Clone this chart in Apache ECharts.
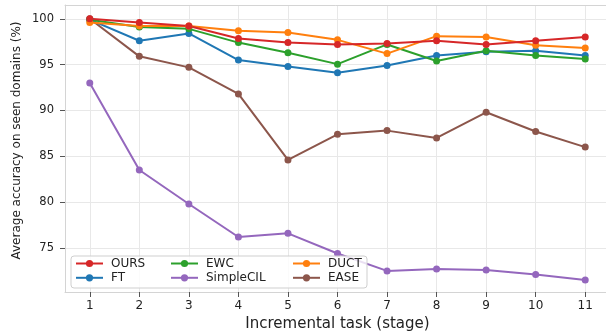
<!DOCTYPE html>
<html>
<head>
<meta charset="utf-8">
<script src="https://cdn.jsdelivr.net/npm/echarts@6/dist/echarts.min.js"></script>
<style>
html,body{margin:0;padding:0;background:#fff;}
#c{width:606px;height:331px;}
</style>
</head>
<body>
<div id="c"></div>
<script>
const stages = [1,2,3,4,5,6,7,8,9,10,11];
const yTicks = [75,80,85,90,95,100];
const seriesNames = ['OURS','FT','EWC','SimpleCIL','DUCT','EASE'];
const OURS      = [100.0, 99.6, 99.2, 97.85, 97.4, 97.2, 97.3, 97.6, 97.2, 97.6, 98.0];
const FT        = [99.9, 97.6, 98.4, 95.5, 94.8, 94.1, 94.9, 96.0, 96.4, 96.5, 96.0];
const EWC       = [99.9, 99.1, 98.9, 97.4, 96.3, 95.05, 97.2, 95.4, 96.5, 96.0, 95.6];
const SimpleCIL = [93.0, 83.5, 79.8, 76.2, 76.6, 74.4, 72.5, 72.7, 72.6, 72.1, 71.5];
const DUCT      = [99.6, 99.2, 99.2, 98.7, 98.5, 97.7, 96.2, 98.1, 98.0, 97.1, 96.8];
const EASE      = [100.0, 95.9, 94.7, 91.8, 84.6, 87.4, 87.8, 87.0, 89.8, 87.7, 86.0];
const values = {OURS, FT, EWC, SimpleCIL, DUCT, EASE};
const colors = {OURS:'#d62728', FT:'#1f77b4', EWC:'#2ca02c', SimpleCIL:'#9467bd', DUCT:'#ff7f0e', EASE:'#8c564b'};
const drawOrder = ['EASE','SimpleCIL','FT','EWC','DUCT','OURS'];

const FONT = 'DejaVu Sans';
const SPINE = '#d4d4d4';
const chart = echarts.init(document.getElementById('c'));

const series = drawOrder.map(n => ({
  name: n,
  type: 'line',
  data: stages.map((s,i) => [s, values[n][i]]),
  symbol: 'circle',
  symbolSize: 7,
  lineStyle: {width: 2, color: colors[n]},
  itemStyle: {color: colors[n]},
  animation: false
}));

function legendCol(names, left) {
  return {
    data: names, orient: 'vertical', left: left, top: 256.5, padding: 0,
    itemWidth: 27, itemHeight: 9, itemGap: 0.3, z: 20,
    textStyle: {fontFamily: FONT, fontSize: 12, color: '#222', lineHeight: 14, padding: [0,0,0,3]}
  };
}

chart.setOption({
  animation: false,
  backgroundColor: '#fff',
  grid: {left: 65, right: -4, top: 5, bottom: 39, outerBoundsMode: 'none', containLabel: false},
  xAxis: [{
    type: 'value', min: 0.5, max: 11.5,
    name: 'Incremental task (stage)', nameLocation: 'middle', nameGap: 21,
    nameTextStyle: {fontFamily: FONT, fontSize: 15, color: '#222'},
    axisLine: {show: true, lineStyle: {color: SPINE, width: 1}},
    axisTick: {show: true, length: 5, lineStyle: {color: '#555'}, customValues: stages},
    axisLabel: {fontFamily: FONT, fontSize: 12, color: '#222', margin: 8, customValues: stages},
    splitLine: {show: true, lineStyle: {color: '#e8e8e8', width: 1}}
  }, {
    type: 'value', position: 'top', min: 0.5, max: 11.5,
    axisLine: {show: true, onZero: false, lineStyle: {color: SPINE, width: 1}},
    axisTick: {show: false}, axisLabel: {show: false}, splitLine: {show: false}
  }],
  yAxis: {
    type: 'value', min: 70.2, max: 101.5,
    axisLine: {show: true, onZero: false, lineStyle: {color: SPINE, width: 1}},
    axisTick: {show: true, length: 5, lineStyle: {color: '#555'}, customValues: yTicks},
    axisLabel: {fontFamily: FONT, fontSize: 11.5, color: '#222', margin: 11, customValues: yTicks},
    splitLine: {show: true, lineStyle: {color: '#e8e8e8', width: 1}}
  },
  legend: [
    legendCol(['OURS','FT'], 75),
    legendCol(['EWC','SimpleCIL'], 170),
    legendCol(['DUCT','EASE'], 292)
  ],
  graphic: [{
    type: 'rect', z: 15, silent: true,
    shape: {x: 71, y: 256, width: 296, height: 32, r: 3},
    style: {fill: 'rgba(255,255,255,0.8)', stroke: '#cfcfcf', lineWidth: 1}
  }, {
    type: 'text', z: 15, silent: true,
    x: 16.5, y: 140.5, rotation: Math.PI / 2,
    style: {text: 'Average accuracy on seen domains (%)', font: '12px "DejaVu Sans"', fill: '#222', align: 'center', verticalAlign: 'middle'}
  }],
  series: series
});
</script>
</body>
</html>
